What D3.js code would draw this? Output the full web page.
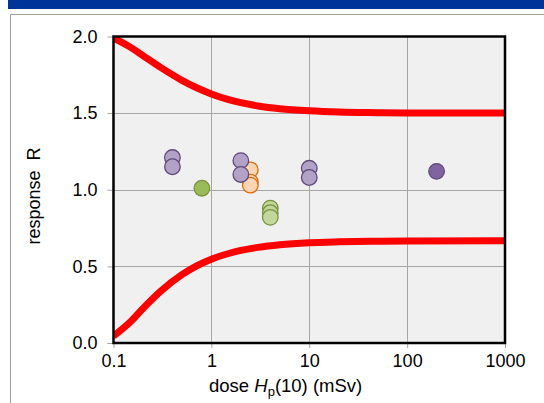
<!DOCTYPE html>
<html><head><meta charset="utf-8">
<script src="https://cdn.jsdelivr.net/npm/d3@7"></script>
<style>html,body{margin:0;padding:0;background:#fff;overflow:hidden}svg{display:block;font-family:"Liberation Sans",Arial,sans-serif}</style>
</head><body><svg id="c" width="544" height="403"></svg>
<script>
// ---- data ----
const xTicks = [0.1, 1, 10, 100, 1000];
const xTickLabels = ["0.1", "1", "10", "100", "1000"];
const yTicks = [0.0, 0.5, 1.0, 1.5, 2.0];
const yTickLabels = ["0.0", "0.5", "1.0", "1.5", "2.0"];

const limitDose  = [0.1, 0.15, 0.2, 0.3, 0.5, 0.7, 1, 1.5, 2, 3, 5, 10, 20, 50, 100, 1000];
const upperLimit = [1.99, 1.929, 1.875, 1.800, 1.714, 1.667, 1.625, 1.588, 1.568, 1.547, 1.529, 1.515, 1.507, 1.503, 1.501, 1.500];
const lowerLimit = [0.045, 0.14, 0.225, 0.335, 0.446, 0.502, 0.547, 0.584, 0.604, 0.624, 0.641, 0.654, 0.660, 0.664, 0.666, 0.667];

const orangeDose = [2.5, 2.5, 2.5];
const orangeR    = [1.13, 1.05, 1.03];
const lightGreenDose = [4, 4, 4];
const lightGreenR    = [0.88, 0.85, 0.82];
const darkGreenDose = [0.8];
const darkGreenR    = [1.01];
const lightPurpleDose = [0.4, 0.4, 2, 2, 10, 10];
const lightPurpleR    = [1.21, 1.15, 1.19, 1.10, 1.14, 1.08];
const darkPurpleDose = [200];
const darkPurpleR    = [1.12];

// ---- drawing ----
const FONT = "'Liberation Sans', Arial, sans-serif";
const svg = d3.select("#c");
const L = 113.5, R = 505, T = 36.5, B = 343;
const x = d3.scaleLog().domain([0.1, 1000]).range([L, R]);
const y = d3.scaleLinear().domain([0, 2]).range([B, T]);

// header band and frame
svg.append("rect").attr("x", 8).attr("y", 0).attr("width", 536).attr("height", 9).attr("fill", "#003399");
svg.append("path").attr("d", "M10.5,403V14.5H544").attr("fill", "none").attr("stroke", "#a0a0a0").attr("stroke-width", 1);

// plot background
svg.append("rect").attr("x", L).attr("y", T).attr("width", R - L).attr("height", B - T).attr("fill", "#f0f0f0");

// gridlines
const g = svg.append("g");
g.selectAll(".vg").data(xTicks.slice(1, -1)).join("line")
  .attr("x1", d => Math.round(x(d)) + 0.5).attr("x2", d => Math.round(x(d)) + 0.5)
  .attr("y1", T).attr("y2", B).attr("stroke", "#a6a6a6").attr("stroke-width", 1);
g.selectAll(".hg").data(yTicks.slice(1, -1)).join("line")
  .attr("y1", d => Math.round(y(d)) + 0.5).attr("y2", d => Math.round(y(d)) + 0.5)
  .attr("x1", L).attr("x2", R).attr("stroke", "#a6a6a6").attr("stroke-width", 1);

// axes
const xAxis = d3.axisBottom(x).tickValues(xTicks).tickFormat((d, i) => xTickLabels[i]).tickSize(5).tickPadding(8);
const yAxis = d3.axisLeft(y).tickValues(yTicks).tickFormat((d, i) => yTickLabels[i]).tickSize(6).tickPadding(10);
const gx = svg.append("g").attr("transform", `translate(0,${B})`).call(xAxis);
const gy = svg.append("g").attr("transform", `translate(${L},0)`).call(yAxis);
[gx, gy].forEach(a => {
  a.attr("font-family", FONT).attr("font-size", 18);
  a.select(".domain").remove();
  a.selectAll(".tick line").attr("stroke", "#a6a6a6");
  a.selectAll(".tick text").attr("fill", "#000").attr("font-size", 18).attr("font-family", FONT);
});
gx.selectAll(".tick text").attr("dy", "0.6em");

// clip
svg.append("clipPath").attr("id", "clip").append("rect").attr("x", L).attr("y", T).attr("width", R - L).attr("height", B - T);

// limit curves
const line = d3.line().x(d => x(d[0])).y(d => y(d[1])).curve(d3.curveMonotoneX);
const curves = svg.append("g").attr("clip-path", "url(#clip)");
[upperLimit, lowerLimit].forEach(vals => {
  curves.append("path").datum(limitDose.map((d, i) => [d, vals[i]]))
    .attr("d", line).attr("fill", "none").attr("stroke", "#ff0000").attr("stroke-width", 7);
});

// points
function pts(dose, r, fill, stroke) {
  svg.append("g").selectAll("circle").data(dose.map((d, i) => [d, r[i]])).join("circle")
    .attr("cx", d => x(d[0])).attr("cy", d => y(d[1])).attr("r", 7.8)
    .attr("fill", fill).attr("stroke", stroke).attr("stroke-width", 1.3);
}
pts(orangeDose, orangeR, "#fcd5b5", "#e46c0a");
pts(lightGreenDose, lightGreenR, "#c3d69b", "#77933c");
pts(darkGreenDose, darkGreenR, "#9bbb59", "#77933c");
pts(lightPurpleDose, lightPurpleR, "#b3a2c7", "#604a7b");
pts(darkPurpleDose, darkPurpleR, "#8064a2", "#5f497a");

// plot border
svg.append("rect").attr("x", L).attr("y", T).attr("width", R - L).attr("height", B - T)
  .attr("fill", "none").attr("stroke", "#000").attr("stroke-width", 2.5);

// axis titles
const xt = svg.append("text").attr("x", 209).attr("y", 392).attr("font-size", 18.5).attr("font-family", FONT).attr("fill", "#000");
xt.append("tspan").text("dose ");
xt.append("tspan").attr("font-style", "italic").text("H");
xt.append("tspan").attr("font-size", 13).attr("dy", 4).text("p");
xt.append("tspan").attr("dy", -4).text("(10) (mSv)");

svg.append("text").attr("transform", "translate(40,196) rotate(-90)").attr("text-anchor", "middle")
  .attr("font-size", 18).attr("font-family", FONT).attr("fill", "#000").style("white-space", "pre").text("response  R");
</script></body></html>
